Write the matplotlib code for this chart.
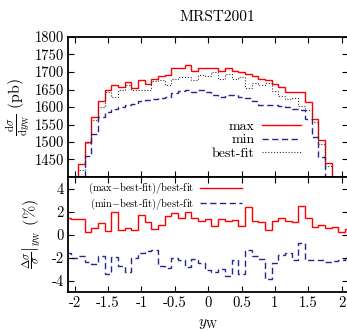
import numpy as np
import matplotlib
matplotlib.use("Agg")
import matplotlib.pyplot as plt

plt.rcParams['font.family'] = 'serif'
plt.rcParams['font.serif'] = ['cmr10', 'DejaVu Serif']
plt.rcParams['mathtext.fontset'] = 'cm'
plt.rcParams['axes.unicode_minus'] = False
plt.rcParams['axes.formatter.use_mathtext'] = False

# bin edges in y_W (bin width 0.1)
edges = np.round(np.linspace(-2.15, 2.15, 44), 2)

# dsigma/dy_W (pb)
sig_max = [1330, 1390, 1438, 1501, 1571, 1616, 1648, 1662, 1657, 1672, 1655,
           1677, 1667, 1681, 1689, 1692, 1710, 1710, 1721, 1702, 1712, 1712,
           1712, 1702, 1712, 1702, 1700, 1694, 1688, 1680, 1677, 1667, 1656,
           1643, 1643, 1643, 1614, 1567, 1505, 1440, 1385, 1320, 1260]
sig_min = [1250, 1330, 1390, 1461, 1522, 1571, 1586, 1595, 1599, 1605, 1610,
           1616, 1619, 1624, 1626, 1630, 1640, 1645, 1648, 1643, 1650, 1643,
           1634, 1629, 1634, 1634, 1629, 1627, 1618, 1605, 1605, 1606, 1602,
           1600, 1593, 1592, 1565, 1515, 1458, 1395, 1320, 1250, 1200]
sig_best = [1310, 1370, 1419, 1498, 1562, 1600, 1643, 1629, 1650, 1662, 1648,
            1649, 1649, 1673, 1676, 1664, 1679, 1685, 1687, 1678, 1692, 1689,
            1699, 1680, 1693, 1680, 1687, 1654, 1669, 1662, 1670, 1647, 1632,
            1624, 1625, 1603, 1591, 1557, 1493, 1432, 1370, 1305, 1245]

# relative deviations (%)
dev_max = [1.45, 1.35, 1.35, 0.2, 0.55, 1.0, 0.3, 2.0, 0.4, 0.6, 0.4,
           1.7, 1.1, 0.45, 0.8, 1.65, 1.9, 1.45, 2.0, 1.45, 1.2, 1.35,
           0.77, 1.33, 1.15, 1.3, 0.77, 2.4, 1.15, 1.1, 0.4, 1.2, 1.45,
           1.15, 1.1, 2.5, 1.45, 0.63, 0.83, 0.53, 0.63, 0.25, 0.45]
dev_min = [-1.6, -2.0, -1.9, -2.4, -2.55, -1.9, -3.4, -1.95, -2.7, -3.3, -2.0,
           -1.65, -1.4, -1.35, -2.7, -2.9, -2.0, -2.25, -2.8, -2.1, -2.5, -3.1,
           -3.25, -3.0, -3.6, -2.25, -3.45, -1.35, -1.85, -2.15, -3.85, -2.45, -1.8,
           -1.65, -2.25, -0.7, -2.2, -2.25, -2.25, -2.4, -2.3, -2.2, -2.0]

red = '#ff0000'
blue = '#26268c'
grey = '#333333'
dash = (0, (4.5, 2.5))
dots = (0, (1, 1.6))

W, H = 347, 331
fig = plt.figure(figsize=(W / 100, H / 100), dpi=100)
x0, x1 = 68, 348.3
ax1 = fig.add_axes([x0 / W, 1 - 177 / H, (x1 - x0) / W, 140 / H])
ax2 = fig.add_axes([x0 / W, 1 - 292 / H, (x1 - x0) / W, 115 / H])

ax1.stairs(sig_max, edges, color=red, lw=1.0, label='max')
ax1.stairs(sig_min, edges, color=blue, lw=1.0, linestyle=dash, label='min')
ax1.stairs(sig_best, edges, color=grey, lw=0.8, linestyle=dots, label='best-fit')
ax1.set_xlim(-2.1, 2.1)
ax1.set_ylim(1400, 1800)
ax1.set_yticks(np.arange(1450, 1801, 50))
ax1.set_xticks(np.arange(-2, 2.01, 0.5))
ax1.tick_params(labelbottom=False)
ax1.set_ylabel(r'$\frac{\mathrm{d}\sigma}{\mathrm{d}y_{\mathrm{W}}}$ (pb)', fontsize=11.5)
ax1.yaxis.set_label_coords(-0.13, 0.5)
ax1.legend(loc='upper right', bbox_to_anchor=(0.83, 0.405), frameon=False,
           markerfirst=False, fontsize=10, handlelength=2.8, handletextpad=0.5,
           labelspacing=0.05, borderpad=0, borderaxespad=0)

ax2.stairs(dev_max, edges, color=red, lw=1.0,
           label=r'(max$-$best-fit)/best-fit')
ax2.stairs(dev_min, edges, color=blue, lw=1.0, linestyle=dash,
           label=r'(min$-$best-fit)/best-fit')
ax2.set_xlim(-2.1, 2.1)
ax2.set_ylim(-5, 5)
ax2.set_yticks([-4, -2, 0, 2, 4])
ax2.set_xticks(np.arange(-2, 2.01, 0.5))
ax2.set_xticklabels(['-2', '-1.5', '-1', '-0.5', '0', '0.5', '1', '1.5', '2'])
ax2.set_ylabel(r'$\left.\frac{\Delta\sigma}{\sigma}\right|_{y_{\mathrm{W}}}$ (%)', fontsize=11.5)
ax2.yaxis.set_label_coords(-0.09, 0.5)
ax2.set_xlabel(r'$y_{\mathrm{W}}$', fontsize=11)
ax2.xaxis.set_label_coords(0.5, -0.22)
ax2.legend(loc='upper right', bbox_to_anchor=(0.62, 0.965), frameon=False,
           markerfirst=False, fontsize=7.5, handlelength=4.0, handletextpad=0.6,
           labelspacing=0.05, borderpad=0, borderaxespad=0)

for ax in (ax1, ax2):
    for s in ax.spines.values():
        s.set_linewidth(1.3)
    ax.tick_params(direction='in', which='both', top=True, right=True,
                   length=4, width=0.8, labelsize=10.5, pad=3)

fig.text(217 / W, 1 - 17 / H, 'MRST2001', ha='center', va='center', fontsize=11)

fig.savefig('out.png', dpi=100)
